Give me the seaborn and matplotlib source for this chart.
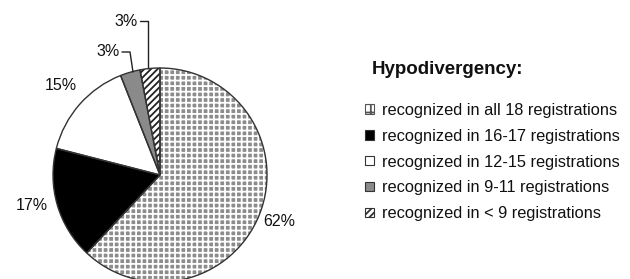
import matplotlib
matplotlib.use("Agg")
import matplotlib.pyplot as plt
import seaborn as sns

categories = [
    "recognized in all 18 registrations",
    "recognized in 16-17 registrations",
    "recognized in 12-15 registrations",
    "recognized in 9-11 registrations",
    "recognized in < 9 registrations",
]
values = [62, 17, 15, 3, 3]
pct_labels = ["62%", "17%", "15%", "3%", "3%"]
legend_title = "Hypodivergency:"

sns.set_theme(style="white")
plt.rcParams["font.family"] = ["Liberation Sans", "DejaVu Sans"]
plt.rcParams["hatch.linewidth"] = 1.3

fig = plt.figure(figsize=(6.30, 2.79), dpi=100)
W, H = 630, 279
cx, cy, r = 160, 175, 107
ax = fig.add_axes([(cx - r) / W, 1 - (cy + r) / H, 2 * r / W, 2 * r / H])

faces = ["#8c8c8c", "black", "white", "#8a8a8a", "white"]
hatches = ["+++", None, None, None, "/////"]
hatch_cols = ["white", "black", "black", "#8a8a8a", "#222222"]

wedges, _ = ax.pie(values, startangle=90, counterclock=False, radius=1,
                   wedgeprops=dict(linewidth=0))
for w, fc, h, hc in zip(wedges, faces, hatches, hatch_cols):
    w.set_facecolor(fc)
    w.set_edgecolor(hc)
    w.set_linewidth(0)
    if h:
        w.set_hatch(h)
# outlines
ax.pie(values, startangle=90, counterclock=False, radius=1,
       wedgeprops=dict(fill=False, edgecolor="#333333", linewidth=1.0))
ax.set_xlim(-1, 1)
ax.set_ylim(-1, 1)
ax.set_aspect("equal")
ax.axis("off")


def px(x, y):
    return ((x - cx) / r, (cy - y) / r)


fs = 11.5
pos = [(279, 222), (32, 205), (61, 85), (108, 52), (126, 21)]
for lab, (x, y) in zip(pct_labels, pos):
    tx, ty = px(x, y)
    ax.text(tx, ty, lab, fontsize=fs, ha="center", va="center", color="#111111")

# leader lines for the small slices
for pts in ([(122, 52), (130, 52), (133, 72)], [(140, 21), (148, 21), (148, 68)]):
    xs, ys = zip(*[px(x, y) for x, y in pts])
    ax.plot(xs, ys, color="#222222", lw=1.0, clip_on=False)

fig.text(372 / W, 1 - 70 / H, legend_title, fontsize=13.5, fontweight="bold",
         ha="left", va="center", color="#111111")

leg = fig.legend(wedges, categories, loc="center left",
                 bbox_to_anchor=(365 / W, 1 - 162 / H), frameon=False,
                 fontsize=11.8, handlelength=0.52, handleheight=0.52,
                 handletextpad=0.5, labelspacing=0.66, borderpad=0,
                 borderaxespad=0)
handles = leg.legend_handles
handles[0].set_facecolor("white")
handles[0].set_hatch("++")
handles[0].set_edgecolor("#555555")
for h in handles[1:]:
    h.set_edgecolor("#333333")
for h in handles:
    h.set_linewidth(0.8)
for t in leg.get_texts():
    t.set_color("#111111")

fig.savefig("out.png", dpi=100)
